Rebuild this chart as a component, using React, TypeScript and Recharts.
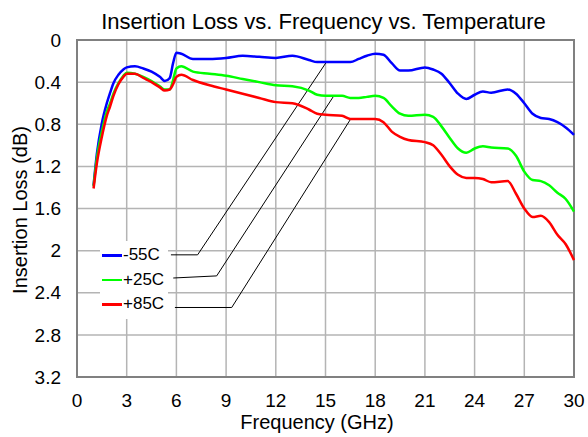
import { LineChart, Line, XAxis, YAxis, CartesianGrid, ReferenceArea, ReferenceLine } from 'recharts'

const freqs = [1, 1.2, 1.5, 1.8, 2, 2.2, 2.5, 2.8, 3, 3.5, 4, 4.5, 5, 5.3, 5.6, 5.8, 6, 6.3, 7, 8, 9, 10, 11, 12, 13, 14, 14.5, 15, 16, 16.5, 17, 17.5, 18, 18.5, 19, 19.5, 20, 21, 21.5, 22, 22.5, 23, 23.5, 24, 24.5, 25, 26, 26.5, 27, 27.5, 28, 28.5, 29, 29.5, 30]

const lossM55 = [1.38, 1.08, 0.79, 0.6, 0.5, 0.41, 0.33, 0.28, 0.26, 0.25, 0.27, 0.3, 0.35, 0.39, 0.36, 0.22, 0.12, 0.13, 0.18, 0.18, 0.17, 0.15, 0.16, 0.17, 0.15, 0.19, 0.21, 0.21, 0.21, 0.21, 0.18, 0.15, 0.13, 0.14, 0.22, 0.29, 0.29, 0.26, 0.28, 0.32, 0.41, 0.51, 0.56, 0.52, 0.49, 0.5, 0.47, 0.51, 0.6, 0.7, 0.74, 0.75, 0.78, 0.83, 0.9]
const lossP25 = [1.39, 1.12, 0.87, 0.68, 0.6, 0.51, 0.41, 0.34, 0.31, 0.32, 0.35, 0.39, 0.44, 0.47, 0.47, 0.38, 0.27, 0.25, 0.3, 0.32, 0.34, 0.37, 0.4, 0.43, 0.44, 0.48, 0.52, 0.53, 0.53, 0.55, 0.55, 0.54, 0.53, 0.55, 0.63, 0.7, 0.72, 0.71, 0.73, 0.82, 0.93, 1.03, 1.07, 1.03, 1.01, 1.02, 1.03, 1.1, 1.25, 1.33, 1.34, 1.38, 1.45, 1.51, 1.63]
const lossP85 = [1.41, 1.17, 0.92, 0.72, 0.63, 0.53, 0.42, 0.35, 0.32, 0.32, 0.36, 0.4, 0.45, 0.48, 0.47, 0.42, 0.35, 0.33, 0.38, 0.43, 0.47, 0.51, 0.55, 0.59, 0.6, 0.66, 0.7, 0.71, 0.72, 0.75, 0.75, 0.75, 0.75, 0.78, 0.87, 0.92, 0.95, 0.97, 1.0, 1.09, 1.2, 1.28, 1.31, 1.31, 1.32, 1.35, 1.34, 1.46, 1.6, 1.68, 1.67, 1.73, 1.85, 1.94, 2.09]

const seriesNames = ['-55C', '+25C', '+85C']
const seriesColors = ['#0000ff', '#00ff00', '#ff0000']
const seriesKeys = ['m55', 'p25', 'p85']

const xTicks = [0, 3, 6, 9, 12, 15, 18, 21, 24, 27, 30]
const yTicks = [0, 0.4, 0.8, 1.2, 1.6, 2, 2.4, 2.8, 3.2]

// leader lines: [label end x, label y], [elbow x, elbow y], [curve x, curve y]
const leaders = [
  [[5.67, 2.04], [7.28, 2.04], [15.07, 0.206]],
  [[5.81, 2.26], [8.43, 2.24], [15.47, 0.538]],
  [[5.91, 2.54], [9.34, 2.54], [16.52, 0.75]],
]

const data = freqs.map((f, i) => ({ f, m55: lossM55[i], p25: lossP25[i], p85: lossP85[i] }))

const font = '"Liberation Sans", Arial, sans-serif'

export default function App() {
  return (
    <div style={{ position: 'absolute', left: 0, top: 0, width: 588, height: 437, background: '#fff', fontFamily: font }}>
      <div style={{ position: 'absolute', top: 9, left: 0, width: 647, textAlign: 'center', fontSize: 22, color: '#000' }}>
        Insertion Loss vs. Frequency vs. Temperature
      </div>
      <LineChart width={588} height={437} data={data} margin={{ top: 40, right: 14, bottom: 0, left: 0 }}>
        <CartesianGrid stroke="#b4b4b4" strokeWidth={1.5} />
        <XAxis
          dataKey="f"
          type="number"
          domain={[0, 30]}
          ticks={xTicks}
          axisLine={false}
          tickLine={false}
          tickSize={0}
          tickMargin={17}
          height={60}
          tick={{ fontSize: 19, fill: '#000', fontFamily: font }}
          label={() => (
            <text x={317} y={429} textAnchor="middle" fontSize={20} fill="#000" fontFamily={font}>
              Frequency (GHz)
            </text>
          )}
        />
        <YAxis
          type="number"
          reversed
          domain={[0, 3.2]}
          ticks={yTicks}
          axisLine={false}
          tickLine={false}
          tickSize={0}
          tickMargin={16}
          width={77}
          tick={{ fontSize: 19, fill: '#000', fontFamily: font }}
          label={() => (
            <text x={27} y={210} textAnchor="middle" fontSize={20} fill="#000" fontFamily={font} transform="rotate(-90 27 210)">
              Insertion Loss (dB)
            </text>
          )}
        />
        <ReferenceArea x1={0} x2={30} y1={0} y2={3.2} fill="none" stroke="#808080" strokeWidth={2} />
        {leaders.map((l, i) => (
          <ReferenceLine key={'a' + i} segment={[{ x: l[0][0], y: l[0][1] }, { x: l[1][0], y: l[1][1] }]} stroke="#000" strokeWidth={1} />
        ))}
        {leaders.map((l, i) => (
          <ReferenceLine key={'b' + i} segment={[{ x: l[1][0], y: l[1][1] }, { x: l[2][0], y: l[2][1] }]} stroke="#000" strokeWidth={1} />
        ))}
        {seriesKeys.map((k, i) => (
          <Line key={k} type="monotone" dataKey={k} stroke={seriesColors[i]} strokeWidth={2.5} dot={false} isAnimationActive={false} />
        ))}
      </LineChart>
      <div style={{ position: 'absolute', left: 100, top: 241, width: 68, background: '#fff', padding: '2px 0' }}>
        {seriesNames.map((n, i) => (
          <div key={n} style={{ display: 'flex', alignItems: 'center', height: 24.5 }}>
            <span style={{ display: 'inline-block', marginLeft: 2, width: 20, height: 2.5, background: seriesColors[i] }} />
            <span style={{ fontSize: 17, marginLeft: 1, lineHeight: '20px' }}>{n}</span>
          </div>
        ))}
      </div>
    </div>
  )
}
